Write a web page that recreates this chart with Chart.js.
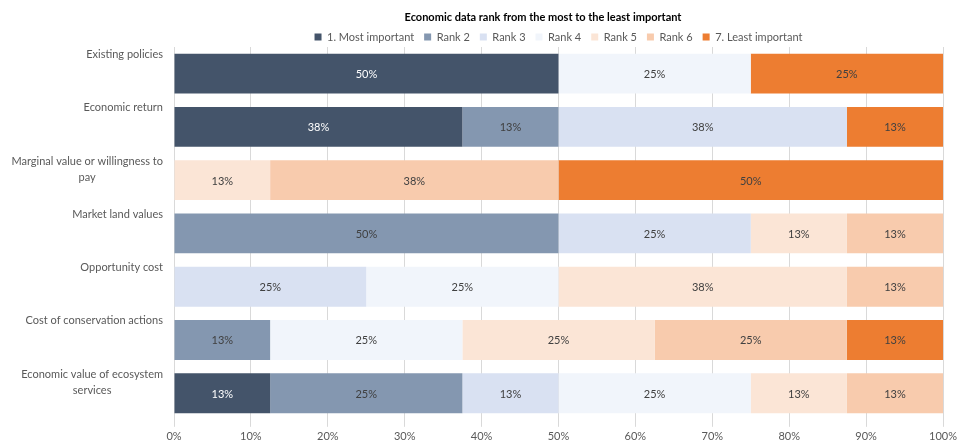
<!DOCTYPE html>
<html>
<head>
<meta charset="utf-8">
<script src="https://cdn.jsdelivr.net/npm/chart.js@4.4.1/dist/chart.umd.min.js"></script>
<style>
    html, body { margin: 0; padding: 0; background: #fff; }
    #wrap { width: 965px; height: 442px; position: relative; }
</style>
</head>
<body>
<div id="wrap"><canvas id="rankChart"></canvas></div>
<script>
const chartTitle = "Economic data rank from the most to the least important";
const categories = [
    ["Existing policies"],
    ["Economic return"],
    ["Marginal value or willingness to", "pay"],
    ["Market land values"],
    ["Opportunity cost"],
    ["Cost of conservation actions"],
    ["Economic value of ecosystem", "services"]
];
const rankNames = ["1. Most important", "Rank 2", "Rank 3", "Rank 4", "Rank 5", "Rank 6", "7. Least important"];
const rankColors = ["#44546a", "#8497b0", "#d9e1f2", "#f1f5fb", "#fbe5d6", "#f8cbad", "#ed7d31"];

// share of answers (%) for each rank, one entry per category
const rank1 = [50, 37.5, 0, 0, 0, 0, 12.5];
const rank2 = [0, 12.5, 0, 50, 0, 12.5, 25];
const rank3 = [0, 37.5, 0, 25, 25, 0, 12.5];
const rank4 = [25, 0, 0, 0, 25, 25, 25];
const rank5 = [0, 0, 12.5, 12.5, 37.5, 25, 12.5];
const rank6 = [0, 0, 37.5, 12.5, 12.5, 25, 12.5];
const rank7 = [25, 12.5, 50, 0, 0, 12.5, 0];
const rankValues = [rank1, rank2, rank3, rank4, rank5, rank6, rank7];

const xTicks = [0, 10, 20, 30, 40, 50, 60, 70, 80, 90, 100];

const FONT = "Lato, 'Open Sans', sans-serif";
const TEXT_GRAY = "#595959";

// title sits a little left of the plot centre
const titleText = {
    id: "titleText",
    afterDraw(chart) {
        const ctx = chart.ctx;
        ctx.save();
        ctx.font = "bold 11px " + FONT;
        ctx.fillStyle = "#000";
        ctx.textAlign = "center";
        ctx.textBaseline = "middle";
        ctx.fillText(chartTitle, 543, 17);
        ctx.restore();
    }
};

// keep the legend row tight above the plot
const legendHeight = {
    id: "legendHeight",
    afterInit(chart) {
        const legend = chart.legend;
        const fit = legend.fit;
        legend.fit = function () {
            fit.call(this);
            this.height = 25.5;
        };
    }
};

// percentage inside each segment
const segmentLabels = {
    id: "segmentLabels",
    afterDatasetsDraw(chart) {
        const ctx = chart.ctx;
        ctx.save();
        ctx.font = "11px " + FONT;
        ctx.textAlign = "center";
        ctx.textBaseline = "middle";
        chart.data.datasets.forEach((ds, i) => {
            const meta = chart.getDatasetMeta(i);
            ctx.fillStyle = i === 0 ? "#ffffff" : "#404040";
            meta.data.forEach((bar, j) => {
                const v = ds.data[j];
                if (!v) return;
                const x = (bar.x + bar.base) / 2;
                ctx.fillText(Math.round(v) + "%", x, bar.y + 1);
            });
        });
        ctx.restore();
    }
};

// wrapped category names, lines centred on each other, block right-aligned
const categoryLabels = {
    id: "categoryLabels",
    afterDraw(chart) {
        const ctx = chart.ctx;
        const yScale = chart.scales.y;
        const right = chart.chartArea.left - 11;
        ctx.save();
        ctx.font = "11px " + FONT;
        ctx.fillStyle = TEXT_GRAY;
        ctx.textAlign = "center";
        ctx.textBaseline = "middle";
        categories.forEach((lines, i) => {
            const yc = yScale.getPixelForTick(i) - 19;
            const widest = Math.max(...lines.map(l => ctx.measureText(l).width));
            const cx = right - widest / 2;
            lines.forEach((line, k) => {
                ctx.fillText(line, cx, yc + k * 16);
            });
        });
        ctx.restore();
    }
};

new Chart(document.getElementById("rankChart"), {
    type: "bar",
    data: {
        labels: categories.map(c => c.join(" ")),
        datasets: rankNames.map((name, i) => ({
            label: name,
            data: rankValues[i],
            backgroundColor: rankColors[i],
            borderWidth: 0,
            categoryPercentage: 0.75,
            barPercentage: 1
        }))
    },
    options: {
        indexAxis: "y",
        responsive: true,
        maintainAspectRatio: false,
        animation: false,
        layout: { padding: { left: 10, right: 22, top: 21.5, bottom: -4 } },
        scales: {
            x: {
                stacked: true,
                min: 0,
                max: 100,
                afterBuildTicks(scale) {
                    scale.ticks = xTicks.map(v => ({ value: v }));
                },
                ticks: {
                    callback: v => v + "%",
                    color: TEXT_GRAY,
                    font: { family: FONT, size: 11 },
                    padding: 3,
                    maxRotation: 0
                },
                grid: { color: "#d9d9d9", lineWidth: 1, tickLength: 7 },
                border: { display: false }
            },
            y: {
                stacked: true,
                afterFit(scale) { scale.width = 164; },
                ticks: { display: false },
                grid: { display: false },
                border: { display: false }
            }
        },
        plugins: {
            title: { display: false },
            legend: {
                position: "top",
                fullSize: false,
                labels: {
                    color: TEXT_GRAY,
                    font: { family: FONT, size: 11 },
                    boxWidth: 7,
                    boxHeight: 7,
                    padding: 10
                }
            },
            tooltip: { enabled: false }
        }
    },
    plugins: [legendHeight, segmentLabels, categoryLabels, titleText]
});
</script>
</body>
</html>
